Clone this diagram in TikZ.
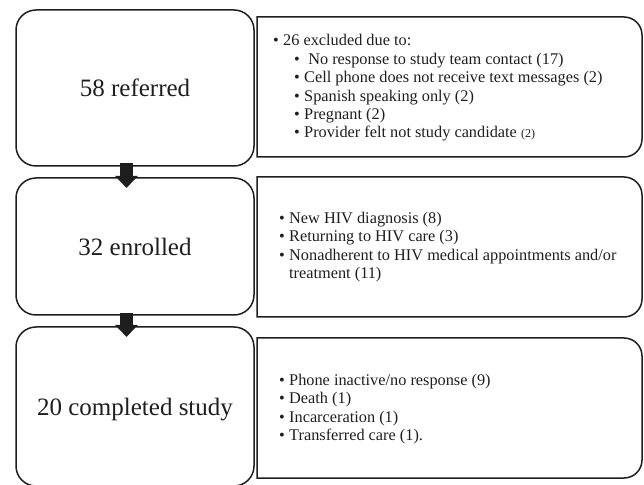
\documentclass[tikz,border=0pt]{standalone}
\usepackage{fontspec}
\setmainfont{Liberation Serif}
\usetikzlibrary{arrows.meta,calc}
\definecolor{ink}{HTML}{1E1E1E}
\newcommand{\bl}{\makebox[10pt][l]{\textbullet}}
\newcommand{\rframe}[1]{%
  \draw[rline] (#1.north west) -- ([xshift=-18pt]#1.north east)
    arc[start angle=90,end angle=0,radius=18pt]
    -- ([yshift=18pt]#1.south east)
    arc[start angle=0,end angle=-90,radius=18pt]
    -- (#1.south west) -- cycle;}
\begin{document}
\begin{tikzpicture}[x=1pt,y=1pt,
  lbox/.style={draw=ink, line width=1.5pt, rounded corners=20pt, minimum width=238pt,
    inner sep=0pt, outer sep=0pt, font=\fontsize{25}{28}\selectfont, text=ink},
  rbox/.style={draw=none, minimum width=385pt, minimum height=140pt, inner sep=0pt, outer sep=0pt},
  rline/.style={draw=ink, line width=1.5pt},
  rtext/.style={anchor=west, align=left, inner sep=0pt, font=\fontsize{16.3}{18.4}\selectfont, text=ink},
  blockarrow/.style={draw=ink, line width=13pt, -{Triangle[width=22pt,length=12pt]}}
]
\useasboundingbox (0,0) rectangle (644,484);
% left boxes
\node[lbox, minimum height=156pt] (b1) at (135,396) {58 referred};
\node[lbox, minimum height=137pt] (b2) at (135,237.5) {32 enrolled};
\node[lbox, minimum height=159pt, text depth=0pt] (b3) at (135,77.5) {20 completed study};
% right boxes
\node[rbox] (r1) at (449.5,397) {};
\node[rbox] (r2) at (449.5,237) {};
\node[rbox] (r3) at (449.5,76) {};
\rframe{r1}
\rframe{r2}
\rframe{r3}
% texts
\node[rtext] (t1) at (273,396) {\bl 26 excluded due to:\\
\hspace*{21pt}\bl\ No response to study team contact (17)\\
\hspace*{21pt}\bl Cell phone does not receive text messages (2)\\
\hspace*{21pt}\bl Spanish speaking only (2)\\
\hspace*{21pt}\bl Pregnant (2)\\
\hspace*{21pt}\bl Provider felt not study candidate {\fontsize{12}{18.4}\selectfont(2)}};
\node[rtext] (t2) at (279,237) {\bl New HIV diagnosis (8)\\
\bl Returning to HIV care (3)\\
\bl Nonadherent to HIV medical appointments and/or\\
\hspace*{10pt}treatment (11)};
\node[rtext] (t3) at (279,75) {\bl Phone inactive/no response (9)\\
\bl Death (1)\\
\bl Incarceration (1)\\
\bl Transferred care (1).};
% arrows
\draw[blockarrow] ([xshift=-8.5pt,yshift=3pt]b1.south) -- ([xshift=-8.5pt,yshift=-10pt]b2.north);
\draw[blockarrow] ([xshift=-8.5pt,yshift=2pt]b2.south) -- ([xshift=-8.5pt,yshift=-10pt]b3.north);
\end{tikzpicture}
\end{document}
